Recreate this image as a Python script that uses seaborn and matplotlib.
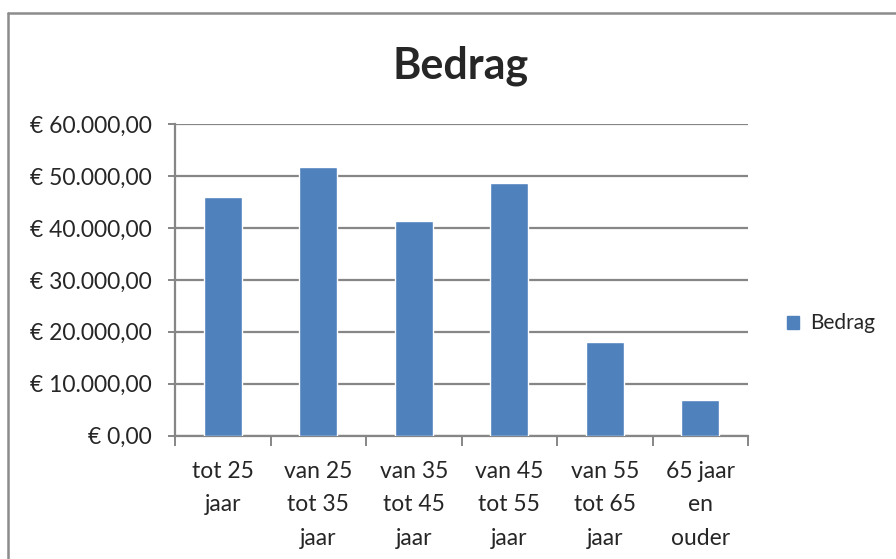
import numpy as np
import pandas as pd
import matplotlib
matplotlib.use("Agg")
import matplotlib.pyplot as plt
import seaborn as sns
from matplotlib.lines import Line2D
from matplotlib.patches import Patch
from matplotlib.ticker import FuncFormatter, MultipleLocator

# ── data ──────────────────────────────────────────────────────────────────────
categories = ["tot 25\njaar", "van 25\ntot 35\njaar", "van 35\ntot 45\njaar",
              "van 45\ntot 55\njaar", "van 55\ntot 65\njaar", "65 jaar\nen\nouder"]
bedrag = [45900, 51700, 41300, 48600, 18000, 6800]
y_ticks = [0, 10000, 20000, 30000, 40000, 50000, 60000]

BAR = "#4F81BD"
GRID = "#868686"

sns.set_style("white")
plt.rcParams["font.family"] = ["Lato", "DejaVu Sans"]

df = pd.DataFrame({"cat": categories, "Bedrag": bedrag})

fig = plt.figure(figsize=(8.96, 5.59), dpi=100)
ax = fig.add_axes([175 / 896, 1 - 435.7 / 559, (748 - 175) / 896, (435.7 - 124) / 559])

sns.barplot(data=df, x="cat", y="Bedrag", color=BAR, width=0.4,
            saturation=1, ax=ax, zorder=3)

def euro(v, pos):
    if v == 0:
        return "€ 0,00"
    return "€ " + f"{int(v):,}".replace(",", ".") + ",00"

ax.set_ylim(0, 60000)
ax.set_xlim(-0.5, len(categories) - 0.5)
ax.set_yticks(y_ticks)
ax.yaxis.set_major_formatter(FuncFormatter(euro))
ax.yaxis.grid(True, color=GRID, lw=1.6, zorder=0)
ax.set_axisbelow(True)
ax.set_xlabel("")
ax.set_ylabel("")

for s in ["top", "right"]:
    ax.spines[s].set_visible(False)
for s in ["left", "bottom"]:
    ax.spines[s].set_color(GRID)
    ax.spines[s].set_linewidth(1.6)

ax.tick_params(axis="y", direction="out", length=5, width=1.4, color=GRID,
               labelsize=16.5, pad=12, left=True)
ax.tick_params(axis="x", which="major", length=0, labelsize=16.5, pad=18)
ax.set_xticks(np.arange(len(categories)))
ax.set_xticklabels(categories, linespacing=1.75, va="top")
ax.xaxis.set_minor_locator(MultipleLocator(1, offset=0.5))
ax.tick_params(axis="x", which="minor", direction="out", length=7, width=1.4,
               color=GRID, bottom=True)

fig.text(461 / 896, 1 - 66 / 559, "Bedrag", ha="center", va="center",
         fontsize=31, fontweight="bold")

ax.legend(handles=[Patch(color=BAR, label="Bedrag")], loc="center left",
          bbox_to_anchor=(1.035, 0.36), frameon=False, fontsize=15,
          handlelength=0.6, handleheight=0.6, handletextpad=0.5)

# chart area border (left and top edges)
fig.add_artist(Line2D([8 / 896, 8 / 896], [0, 1 - 12.5 / 559], color="#8c8c8c",
                      lw=1.8, transform=fig.transFigure))
fig.add_artist(Line2D([8 / 896, 1], [1 - 12.5 / 559, 1 - 12.5 / 559], color="#8c8c8c",
                      lw=1.8, transform=fig.transFigure))

fig.savefig("out.png", dpi=100, facecolor="white")
